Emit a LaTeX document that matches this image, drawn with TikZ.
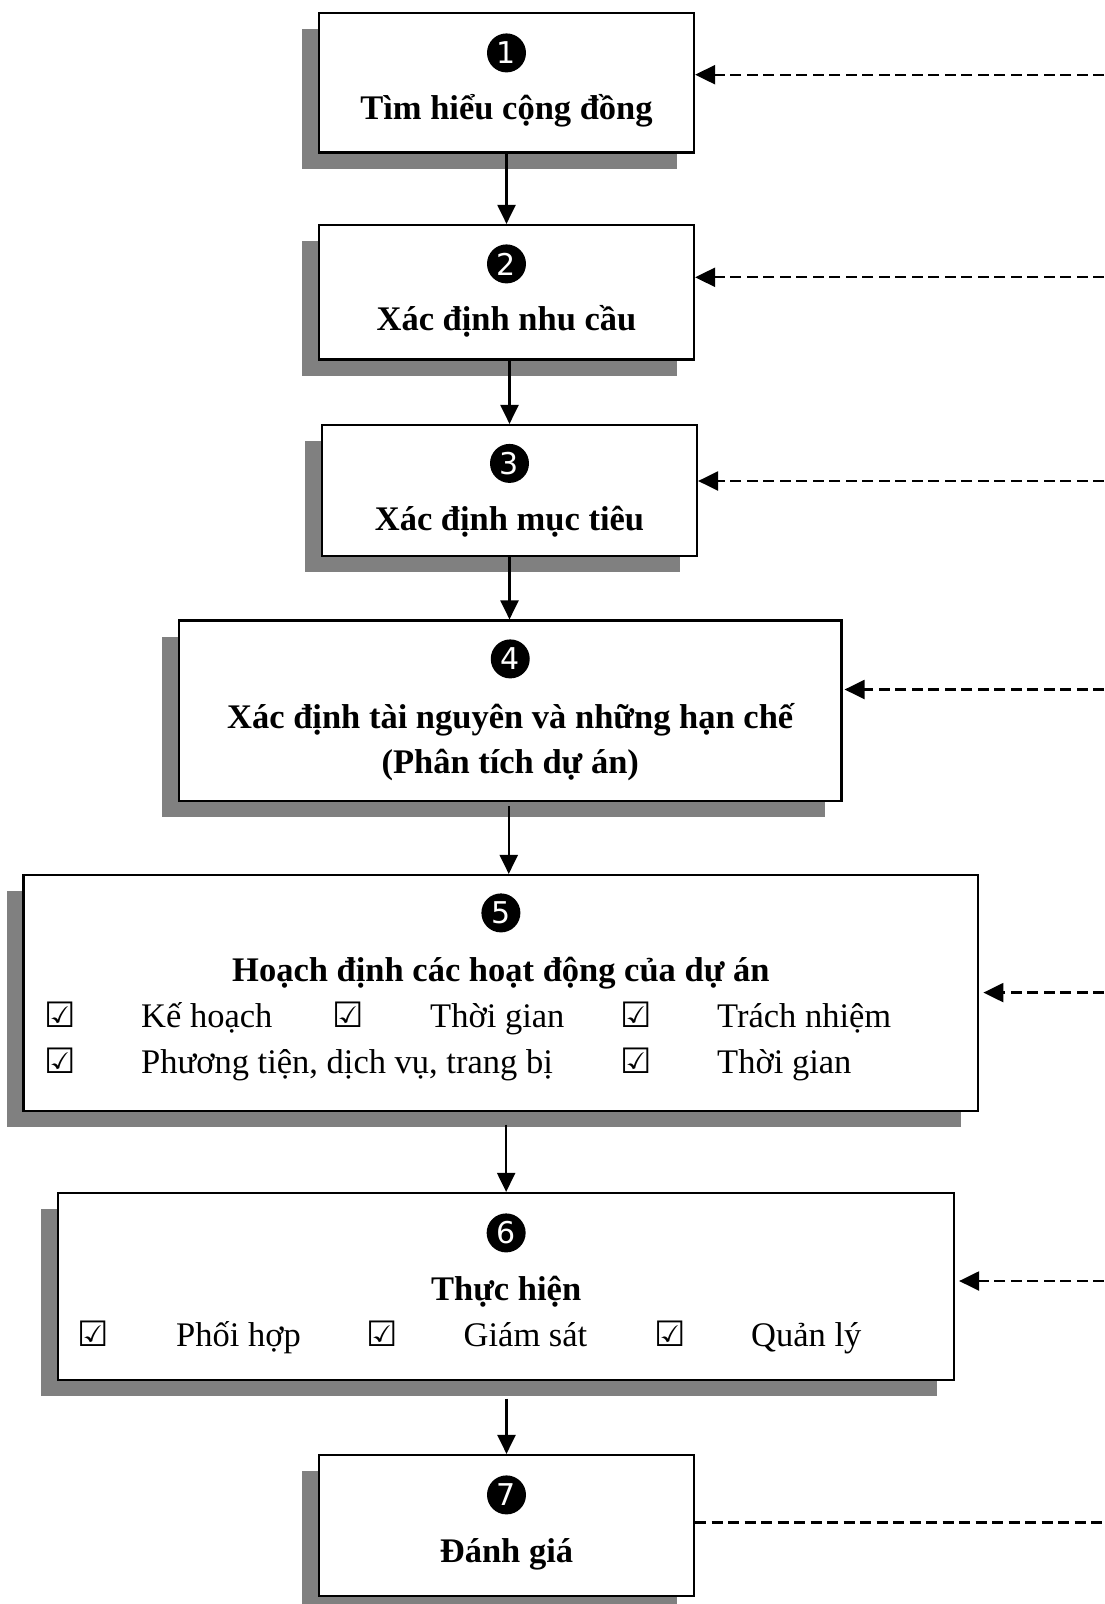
\documentclass[tikz,border=0pt]{standalone}
\usepackage{fontspec}
\setmainfont{Liberation Serif}
\newfontfamily\symfont{DejaVu Sans}
\usetikzlibrary{arrows.meta,shadows}
\definecolor{shadowgray}{RGB}{128,128,128}
\tikzset{
  stepbox/.style={rectangle, draw=black, fill=white, line width=2.2pt, inner sep=0pt,
    general shadow={fill=shadowgray, shadow xshift=-17pt, shadow yshift=-16pt}},
  numdot/.style={circle, fill=black, text=white, minimum size=39pt, inner sep=0pt,
    font=\symfont\fontsize{30}{30}\selectfont},
  ttl/.style={anchor=base, inner sep=0pt, font=\bfseries\fontsize{34.5}{40}\selectfont},
  itm/.style={anchor=base west, inner sep=0pt, font=\fontsize{34.5}{40}\selectfont},
  chk/.style={anchor=base, inner sep=0pt, font=\symfont\fontsize{35}{35}\selectfont},
  flow/.style={line width=2.2pt, -{Triangle[length=19pt,width=18pt]}},
  fb/.style={line width=2.3pt, dash pattern=on 11pt off 5.5pt, -{Triangle[length=20pt,width=19pt]}},
  fbline/.style={line width=2.3pt, dash pattern=on 11pt off 5.5pt},
}
\begin{document}
\begin{tikzpicture}[x=1pt,y=-1pt]
\useasboundingbox[fill=white] (0,0) rectangle (1104,1604);

% boxes
\node[stepbox, minimum width=375pt, minimum height=139.5pt] (b1) at (506.5,82.75) {};
\node[stepbox, minimum width=375pt, minimum height=134.5pt] (b2) at (506.5,292.25) {};
\node[stepbox, minimum width=375pt, minimum height=131pt] (b3) at (509.5,490.5) {};
\node[stepbox, minimum width=662.5pt, minimum height=180.5pt] (b4) at (510.25,710.75) {};
\node[stepbox, minimum width=954.8pt, minimum height=236pt] (b5) at (500.9,993) {};
\node[stepbox, minimum width=895.7pt, minimum height=187pt] (b6) at (506.15,1286.5) {};
\node[stepbox, minimum width=375pt, minimum height=141pt] (b7) at (506.5,1525.5) {};

% numbers
\node[numdot] (n1) at ([yshift=-41pt]b1.north) {1};
\node[numdot] (n2) at ([yshift=-40pt]b2.north) {2};
\node[numdot] (n3) at ([yshift=-39.5pt]b3.north) {3};
\node[numdot] (n4) at ([yshift=-39.5pt]b4.north) {4};
\node[numdot] (n5) at ([yshift=-39pt]b5.north) {5};
\node[numdot] (n6) at ([yshift=-41pt]b6.north) {6};
\node[numdot] (n7) at ([yshift=-41pt]b7.north) {7};

% titles
\node[ttl] (t1) at ([yshift=-108pt]b1.north) {Tìm hiểu cộng đồng};
\node[ttl] (t2) at ([yshift=-107pt]b2.north) {Xác định nhu cầu};
\node[ttl] (t3) at ([yshift=-107pt]b3.north) {Xác định mục tiêu};
\node[ttl] (t4a) at ([yshift=-109pt]b4.north) {Xác định tài nguyên và những hạn chế};
\node[ttl] (t4b) at ([yshift=-154pt]b4.north) {(Phân tích dự án)};
\node[ttl] (t5) at ([yshift=-107.5pt]b5.north) {Hoạch định các hoạt động của dự án};
\node[ttl] (t6) at ([yshift=-108.5pt]b6.north) {Thực hiện};
\node[ttl] (t7) at ([yshift=-108.5pt]b7.north) {Đánh giá};

% box 5 items
\node[chk] (k51) at (60,1027) {☑};
\node[itm] (i51) at (141,1027) {Kế hoạch};
\node[chk] (k52) at (348,1027) {☑};
\node[itm] (i52) at (430,1027) {Thời gian};
\node[chk] (k53) at (636,1027) {☑};
\node[itm] (i53) at (717,1027) {Trách nhiệm};
\node[chk] (k54) at (60,1073) {☑};
\node[itm] (i54) at (141,1073) {Phương tiện, dịch vụ, trang bị};
\node[chk] (k55) at (636,1073) {☑};
\node[itm] (i55) at (717,1073) {Thời gian};

% box 6 items
\node[chk] (k61) at (93.5,1346.5) {☑};
\node[itm] (i61) at (176,1346.5) {Phối hợp};
\node[chk] (k62) at (382,1346.5) {☑};
\node[itm] (i62) at (463.5,1346.5) {Giám sát};
\node[chk] (k63) at (670,1346.5) {☑};
\node[itm] (i63) at (751,1346.5) {Quản lý};

% vertical flow
\draw[flow] (b1.south) -- (b1.south |- b2.north);
\draw[flow] (b3.north |- b2.south) -- (b3.north);
\draw[flow] (b3.south) -- (b3.south |- b4.north);
\coordinate (c45) at ([xshift=-1.5pt]b4.south);
\draw[flow] ([yshift=-4pt]c45) -- (c45 |- b5.north);
\coordinate (c56) at (b6.north |- b5.south);
\draw[flow] ([yshift=-12.5pt]c56) -- (b6.north);
\coordinate (c67) at (b7.north |- b6.south);
\draw[flow] ([yshift=-17.5pt]c67) -- (b7.north);

% feedback dashed arrows
\coordinate (r1) at (1104,74.7);
\coordinate (r2) at (1104,277.3);
\coordinate (r3) at (1104,481);
\coordinate (r4) at (1104,689.5);
\coordinate (r5) at (1104,992.6);
\coordinate (r6) at (1104,1281);
\coordinate (r7) at (1104,1522.6);
\draw[fb] (r1) -- (r1 -| b1.east);
\draw[fb] (r2) -- (r2 -| b2.east);
\draw[fb] (r3) -- (r3 -| b3.east);
\draw[fb, shorten >=2pt] (r4) -- (r4 -| b4.east);
\draw[fb, shorten >=4pt] (r5) -- (r5 -| b5.east);
\draw[fb, shorten >=4pt] (r6) -- (r6 -| b6.east);
\draw[fbline] (r7 -| b7.east) -- (r7);
\end{tikzpicture}
\end{document}
